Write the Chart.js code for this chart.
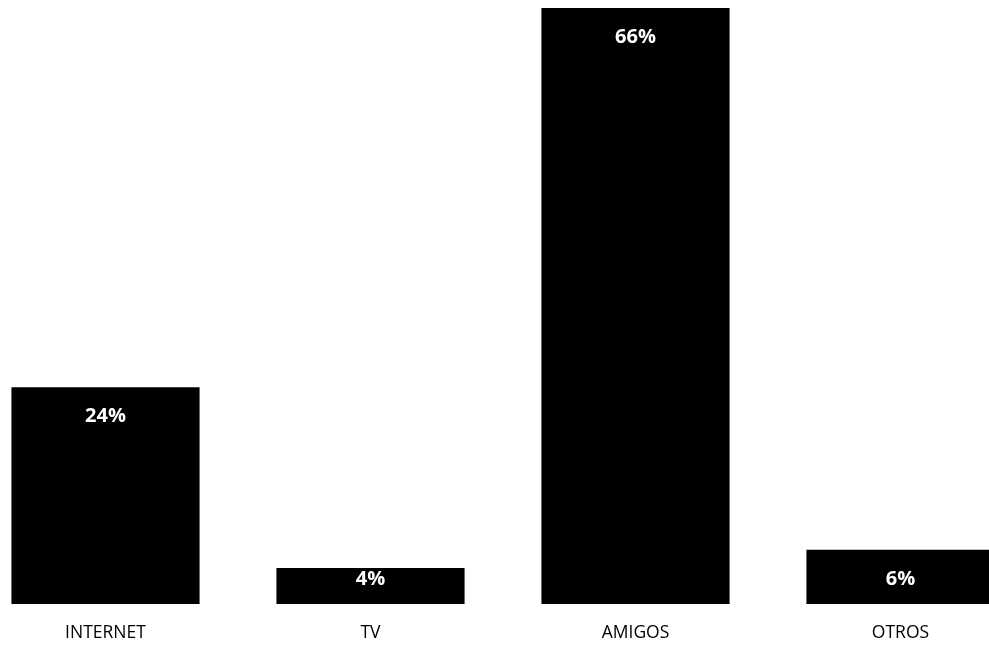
<!DOCTYPE html>
<html>
<head>
<meta charset="utf-8">
<script src="https://cdn.jsdelivr.net/npm/chart.js@4/dist/chart.umd.min.js"></script>
<style>
  html, body { margin: 0; padding: 0; background: #fff; overflow: hidden; width: 989px; height: 647px; }
  #wrap { position: absolute; left: -27px; top: 0; width: 1060px; height: 647px; }
</style>
</head>
<body>
<div id="wrap"><canvas id="chart"></canvas></div>
<script>
// Survey: how respondents heard about it (percent of answers)
const categories = ['INTERNET', 'TV', 'AMIGOS', 'OTROS'];
const shares = [24, 4, 66, 6];
const shareLabels = ['24%', '4%', '66%', '6%'];

// White percentage labels drawn inside the top of each bar
const insideLabels = {
  id: 'insideLabels',
  afterDatasetsDraw(chart) {
    const ctx = chart.ctx;
    const meta = chart.getDatasetMeta(0);
    ctx.save();
    ctx.fillStyle = '#ffffff';
    ctx.font = 'bold 20px "Open Sans", sans-serif';
    ctx.textAlign = 'center';
    ctx.textBaseline = 'middle';
    meta.data.forEach((bar, i) => {
      const y = Math.min(bar.y + 29, bar.base - 25);
      ctx.fillText(shareLabels[i], bar.x, y);
    });
    ctx.restore();
  }
};

new Chart(document.getElementById('chart'), {
  type: 'bar',
  data: {
    labels: categories,
    datasets: [{
      data: shares,
      backgroundColor: '#000000',
      borderWidth: 0,
      categoryPercentage: 1.0,
      barPercentage: 0.71
    }]
  },
  options: {
    responsive: true,
    maintainAspectRatio: false,
    animation: false,
    layout: { padding: { top: 8, left: 0, right: 0, bottom: 0 } },
    plugins: {
      legend: { display: false },
      tooltip: { enabled: false }
    },
    scales: {
      x: {
        grid: { display: false, drawTicks: false },
        border: { display: false },
        ticks: {
          color: '#000000',
          font: { family: '"Open Sans", sans-serif', size: 17.5 },
          padding: 19
        },
        afterFit(scale) { scale.height = 43; }
      },
      y: {
        display: false,
        min: 0,
        max: 66
      }
    }
  },
  plugins: [insideLabels]
});
</script>
</body>
</html>
